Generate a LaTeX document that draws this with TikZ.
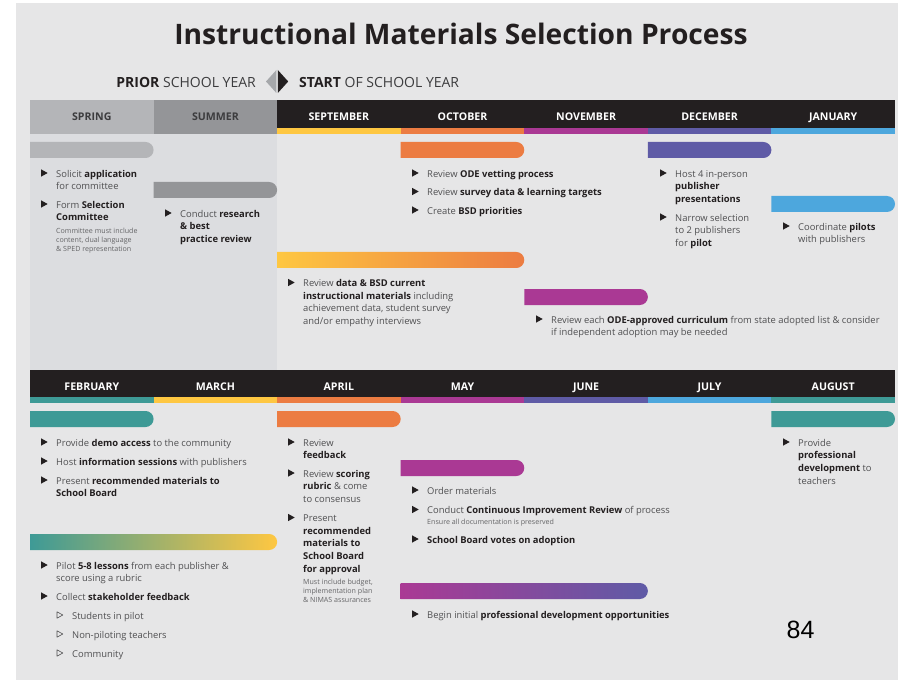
\documentclass[tikz,border=0pt]{standalone}
\usepackage{fontspec}
\usepackage{graphicx}
\setmainfont{Open Sans}
\newfontfamily\numfont{Liberation Sans}

% bold words
\newcommand\bd[1]{{\bfseries\color{txtdark}#1}}
% bullet with text (name, x, baseline, text)
\newcommand\bitem[4]{%
  \node[txt] (#1) at (#2,#3) {\strut#4};
  \fill[txtdark] (#2-15,#3-7.7) -- (#2-8.3,#3-4) -- (#2-15,#3-0.3) -- cycle;}
% open bullet
\newcommand\sitem[4]{%
  \node[txt] (#1) at (#2,#3) {\strut#4};
  \draw[txtgray,line width=0.6pt,line join=round] (#2-15,#3-7.2) -- (#2-9.2,#3-4) -- (#2-15,#3-0.8) -- cycle;}
% bar with round right end (x1, x2, top, options)
\newcommand\tbar[4]{%
  \path[#4] (#1,#3) -- (#2-8,#3) arc[start angle=90,end angle=-90,radius=8pt] -- (#1,#3+16) -- cycle;}

\begin{document}
\begin{tikzpicture}[x=1pt,y=-1pt,
  txt/.style={anchor=north west,inner sep=0pt,yshift=8.82pt,align=left,text=txtgray,font=\fontsize{9.4}{12.6}\selectfont},
  note/.style={anchor=north west,inner sep=0pt,yshift=6.3pt,align=left,text=notegray,font=\fontsize{7.1}{9.1}\selectfont},
  mon/.style={anchor=base,inner sep=0pt,text=white,font=\fontsize{10.6}{12}\selectfont\bfseries},
  graymon/.style={mon,text=hdrgraytext}]

\definecolor{slidebg}{RGB}{230,230,231}
\definecolor{priorbg}{RGB}{220,221,224}
\definecolor{springgray}{RGB}{180,181,184}
\definecolor{summergray}{RGB}{148,149,152}
\definecolor{diagray}{RGB}{166,168,171}
\definecolor{hdrblack}{RGB}{35,31,32}
\definecolor{hdrgraytext}{RGB}{60,60,62}
\definecolor{myyellow}{RGB}{254,199,66}
\definecolor{myorange}{RGB}{236,124,66}
\definecolor{mymagenta}{RGB}{170,57,148}
\definecolor{mypurple}{RGB}{95,91,166}
\definecolor{myblue}{RGB}{77,167,221}
\definecolor{myteal}{RGB}{62,154,150}
\definecolor{txtdark}{RGB}{35,31,32}
\definecolor{txtgray}{RGB}{80,80,82}
\definecolor{notegray}{RGB}{100,100,102}

    %Background
    \useasboundingbox (0,0) rectangle (898,682);
    \fill [white] (0,0) rectangle (898,682);
    \fill [slidebg] (16,3) rectangle (898,680);
    \fill [priorbg] (30,134) rectangle (277.14,370);

    %Title
    \node [anchor=base, inner sep=0pt, text=txtdark, font=\fontsize{28.2}{32}\selectfont\bfseries] (title) at (461,45)
      {Instructional Materials Selection Process};

    %Prior / start
    \node [anchor=base east, inner sep=0pt, text=hdrgraytext, font=\fontsize{14}{16}\selectfont] (prior) at (256,88) {\bd{PRIOR} SCHOOL YEAR};
    \node [anchor=base west, inner sep=0pt, text=hdrgraytext, font=\fontsize{14}{16}\selectfont] (start) at (299,88) {\bd{START} OF SCHOOL YEAR};
    \fill [diagray] (266,81.5) -- (276.4,70) -- (276.4,93) -- cycle;
    \fill [hdrblack] (277.8,70) -- (288.2,81.5) -- (277.8,93) -- cycle;

    %Header top
    \fill [springgray] (30,100) rectangle (153.57,134);
    \fill [summergray] (153.57,100) rectangle (277.14,134);
    \fill [hdrblack] (277.14,100) rectangle (895,128);
    \fill [myyellow] (277.14,128) rectangle (400.71,134);
    \fill [myorange] (400.71,128) rectangle (524.29,134);
    \fill [mymagenta] (524.29,128) rectangle (647.86,134);
    \fill [mypurple] (647.86,128) rectangle (771.43,134);
    \fill [myblue] (771.43,128) rectangle (895,134);
    \node [graymon] (spring) at (91.8,121) {SPRING};
    \node [graymon] (summer) at (215.4,121) {SUMMER};
    \node [mon] (sep) at (338.9,121) {SEPTEMBER};
    \node [mon] (oct) at (462.5,121) {OCTOBER};
    \node [mon] (nov) at (586.1,121) {NOVEMBER};
    \node [mon] (dec) at (709.6,121) {DECEMBER};
    \node [mon] (jan) at (833.2,121) {JANUARY};

    %Header bottom
    \fill [hdrblack] (30,370) rectangle (895,396.5);
    \fill [myteal] (30,396.5) rectangle (153.57,403);
    \fill [myyellow] (153.57,396.5) rectangle (277.14,403);
    \fill [myorange] (277.14,396.5) rectangle (400.71,403);
    \fill [mymagenta] (400.71,396.5) rectangle (524.29,403);
    \fill [mypurple] (524.29,396.5) rectangle (647.86,403);
    \fill [myblue] (647.86,396.5) rectangle (771.43,403);
    \fill [myteal] (771.43,396.5) rectangle (895,403);
    \node [mon] (feb) at (91.8,390) {FEBRUARY};
    \node [mon] (mar) at (215.4,390) {MARCH};
    \node [mon] (apr) at (338.9,390) {APRIL};
    \node [mon] (may) at (462.5,390) {MAY};
    \node [mon] (jun) at (586.1,390) {JUNE};
    \node [mon] (jul) at (709.6,390) {JULY};
    \node [mon] (aug) at (833.2,390) {AUGUST};

    %Bars
    \tbar{30}{153.57}{142}{fill=springgray}
    \tbar{153.57}{277.14}{182}{fill=summergray}
    \tbar{400.71}{524.29}{142}{fill=myorange}
    \tbar{647.86}{771.43}{142}{fill=mypurple}
    \tbar{771.43}{895}{196}{fill=myblue}
    \tbar{277.14}{524.29}{252}{left color=myyellow,right color=myorange}
    \tbar{524.29}{647.86}{289}{fill=mymagenta}
    \tbar{30}{153.57}{411}{fill=myteal}
    \tbar{30}{277.14}{534}{left color=myteal,right color=myyellow}
    \tbar{277.14}{400.71}{411}{fill=myorange}
    \tbar{400.71}{524.29}{460}{fill=mymagenta}
    \tbar{400.71}{647.86}{583}{left color=mymagenta,right color=mypurple}
    \tbar{771.43}{895}{411}{fill=myteal}

    %Spring and summer
    \bitem{sprA}{56}{177}{Solicit \bd{application}\\for committee}
    \bitem{sprB}{56}{208}{Form \bd{Selection}\\\bd{Committee}}
    \node [note] (sprBnote) at (56,233) {\strut Committee must include\\content, dual language\\\& SPED representation};
    \bitem{sumA}{180}{217}{Conduct \bd{research}\\\bd{\& best}\\\bd{practice review}}

    %September to January
    \bitem{octA}{427}{177}{Review \bd{ODE vetting process}}
    \bitem{octB}{427}{195.5}{Review \bd{survey data \& learning targets}}
    \bitem{octC}{427}{214}{Create \bd{BSD priorities}}
    \bitem{sepA}{303}{286.5}{Review \bd{data \& BSD current}\\\bd{instructional materials} including\\achievement data, student survey\\and/or empathy interviews}
    \bitem{novA}{551}{323}{Review each \bd{ODE-approved curriculum} from state adopted list \& consider\\if independent adoption may be needed}
    \bitem{decA}{675}{177}{Host 4 in-person\\\bd{publisher}\\\bd{presentations}}
    \bitem{decB}{675}{221}{Narrow selection\\to 2 publishers\\for \bd{pilot}}
    \bitem{janA}{798}{230}{Coordinate \bd{pilots}\\with publishers}

    %February and March
    \bitem{febA}{56}{446}{Provide \bd{demo access} to the community}
    \bitem{febB}{56}{465}{Host \bd{information sessions} with publishers}
    \bitem{febC}{56}{484}{Present \bd{recommended materials to}\\\bd{School Board}}
    \bitem{pilA}{56}{569}{Pilot \bd{5-8 lessons} from each publisher \&\\score using a rubric}
    \bitem{pilB}{56}{600}{Collect \bd{stakeholder feedback}}
    \sitem{pilC}{72}{619}{Students in pilot}
    \sitem{pilD}{72}{638}{Non-piloting teachers}
    \sitem{pilE}{72}{657}{Community}

    %April to August
    \bitem{aprA}{303}{446}{Review\\\bd{feedback}}
    \bitem{aprB}{303}{477}{Review \bd{scoring}\\\bd{rubric} \& come\\to consensus}
    \bitem{aprC}{303}{521.5}{Present\\\bd{recommended}\\\bd{materials to}\\\bd{School Board}\\\bd{for approval}}
    \node [note] (aprCnote) at (303,584) {\strut Must include budget,\\implementation plan\\\& NIMAS assurances};
    \bitem{mayA}{427}{494}{Order materials}
    \bitem{mayB}{427}{513.5}{Conduct \bd{Continuous Improvement Review} of process}
    \node [note] (mayBnote) at (427,524.5) {\strut Ensure all documentation is preserved};
    \bitem{mayC}{427}{543}{\bd{School Board votes on adoption}}
    \bitem{junA}{427}{618}{Begin initial \bd{professional development opportunities}}
    \bitem{augA}{798}{446}{Provide\\\bd{professional}\\\bd{development} to\\teachers}

    %Page number
    \node [anchor=base, inner sep=0pt, font=\numfont\fontsize{25}{30}\selectfont] (pagenum) at (800.5,638) {84};

\end{tikzpicture}
\end{document}
